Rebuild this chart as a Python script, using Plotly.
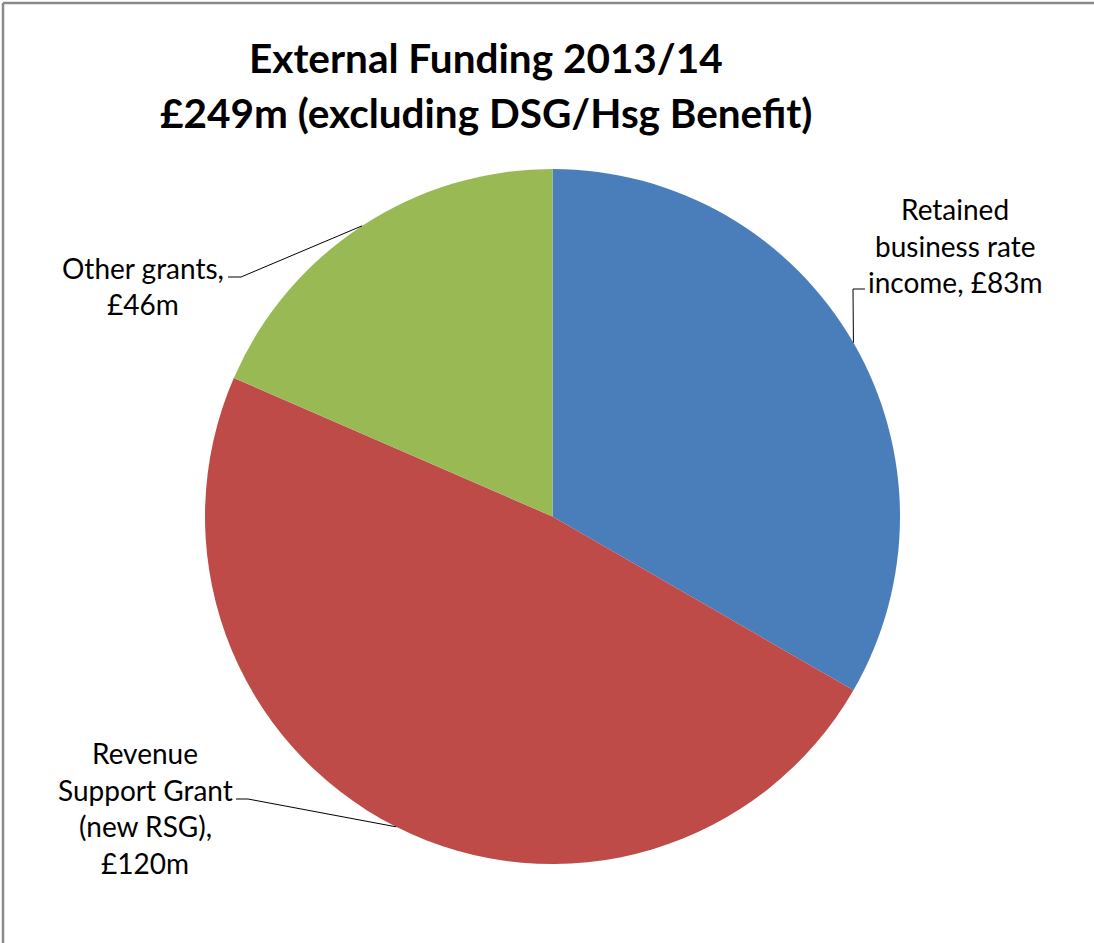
import math
import plotly.graph_objects as go

# Funding sources (£m), drawn clockwise from 12 o'clock
categories = ["Retained business rate income", "Revenue Support Grant (new RSG)", "Other grants"]
values = [83, 120, 46]
label_lines = [
    ["Retained", "business rate", "income, £83m"],
    ["Revenue", "Support Grant", "(new RSG),", "£120m"],
    ["Other grants,", "£46m"],
]
colors = ["#4A7EBB", "#BE4B48", "#98B954"]
title_lines = ["External Funding 2013/14", "£249m (excluding DSG/Hsg Benefit)"]

W, H = 1094, 943
FONT = "Lato"

# pie geometry in pixels
CX, CY, R = 552.5, 516.5, 347.5


def px(x):
    return x / W


def py(y):
    return 1 - y / H


fig = go.Figure(
    go.Pie(
        labels=categories,
        values=values,
        sort=False,
        direction="clockwise",
        rotation=0,
        marker=dict(colors=colors, line=dict(width=0)),
        textinfo="none",
        hoverinfo="skip",
        showlegend=False,
        domain=dict(x=[px(CX - R), px(CX + R)], y=[py(CY + R), py(CY - R)]),
    )
)

annotations = []
shapes = []

# title, one annotation per line
for text, yc in zip(title_lines, [57, 113]):
    annotations.append(dict(
        text=f"<b>{text}</b>", x=px(486), y=py(yc), xref="paper", yref="paper",
        xanchor="center", yanchor="middle", showarrow=False,
        font=dict(family=FONT, size=40.5, color="#000000"),
    ))

# label block placement: centre x, first line y, line step, elbow start, elbow end
label_layout = [
    dict(cx=955, y0=209, step=36.5, elbow=[(865, 289), (853, 289)]),
    dict(cx=145, y0=753, step=36.7, elbow=[(236, 799), (248, 799)]),
    dict(cx=143, y0=268, step=35.5, elbow=[(228, 277), (241, 277)]),
]

total = sum(values)
start = 0.0
for v, lines, lay in zip(values, label_lines, label_layout):
    mid = start + v / total * 360 / 2
    start += v / total * 360
    a = math.radians(mid)
    ex, ey = CX + R * math.sin(a), CY - R * math.cos(a)
    for i, line in enumerate(lines):
        annotations.append(dict(
            text=line, x=px(lay["cx"]), y=py(lay["y0"] + i * lay["step"]),
            xref="paper", yref="paper", xanchor="center", yanchor="middle",
            showarrow=False, font=dict(family=FONT, size=28, color="#000000"),
        ))
    pts = lay["elbow"] + [(ex, ey)]
    path = "M " + " L ".join(f"{px(x)},{py(y)}" for x, y in pts)
    shapes.append(dict(type="path", path=path, xref="paper", yref="paper",
                       line=dict(color="#000000", width=1)))

# chart frame (top and left edges)
shapes.append(dict(type="line", x0=px(3), y0=py(3), x1=1, y1=py(3), xref="paper", yref="paper",
                   line=dict(color="#8A8A8A", width=2.5)))
shapes.append(dict(type="line", x0=px(3), y0=py(3), x1=px(3), y1=0, xref="paper", yref="paper",
                   line=dict(color="#8A8A8A", width=2.5)))

fig.update_layout(
    width=W, height=H,
    margin=dict(l=0, r=0, t=0, b=0),
    paper_bgcolor="#FFFFFF", plot_bgcolor="#FFFFFF",
    annotations=annotations, shapes=shapes,
)

fig.write_html("out.html")
